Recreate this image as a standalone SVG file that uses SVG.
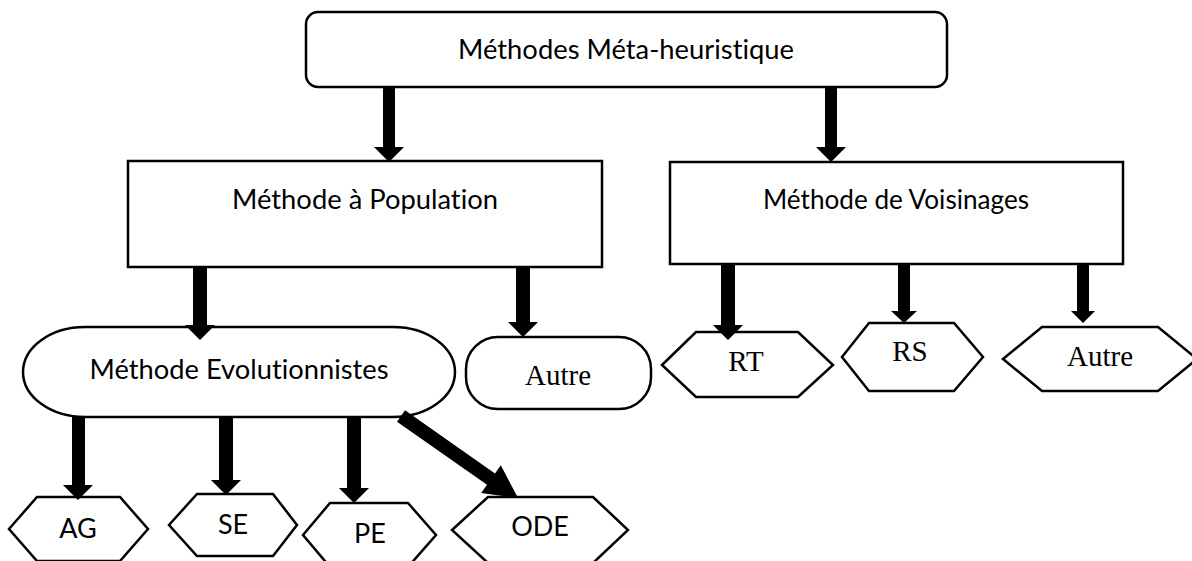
<svg xmlns="http://www.w3.org/2000/svg" width="1192" height="561" viewBox="0 0 1192 561">
<style>
.n{fill:#fff;stroke:#000;stroke-width:2.5}
.c{font-family:Lato,"Open Sans",sans-serif;font-size:27px;fill:#000;text-anchor:middle;font-variant-ligatures:none}
.t{font-family:"Liberation Serif","Times New Roman",serif;font-size:29px;fill:#000;text-anchor:middle}
.a{fill:#000;stroke:none}
</style>
<rect width="1192" height="561" fill="#fff"/>
<g id="n-meta">
<rect class="n" x="306" y="12" width="641" height="75" rx="12"/>
<text class="c" x="626" y="59" textLength="336" lengthAdjust="spacingAndGlyphs">Méthodes Méta-heuristique</text>
</g>
<g id="n-population">
<rect class="n" x="128" y="161" width="474" height="106"/>
<text class="c" x="365" y="209" textLength="266" lengthAdjust="spacingAndGlyphs">Méthode à Population</text>
</g>
<g id="n-voisinages">
<rect class="n" x="670" y="162" width="453" height="102"/>
<text class="c" x="896" y="209" textLength="266" lengthAdjust="spacingAndGlyphs">Méthode de Voisinages</text>
</g>
<g id="n-evol">
<rect class="n" x="23" y="327" width="432" height="90" rx="62" ry="45"/>
<text class="c" x="239" y="379" textLength="299" lengthAdjust="spacingAndGlyphs">Méthode Evolutionnistes</text>
</g>
<g id="n-autre1">
<rect class="n" x="466" y="337" width="185" height="72" rx="32" ry="32"/>
<text class="t" x="558" y="385">Autre</text>
</g>
<g id="n-ag">
<polygon class="n" points="9,529 37,497 120,497 148,529 120,561 37,561"/>
<text class="c" x="78" y="538">AG</text>
</g>
<g id="n-se">
<polygon class="n" points="169,525 197,494 273,494 297,525 273,556 197,556"/>
<text class="c" x="233" y="534">SE</text>
</g>
<g id="n-pe">
<polygon class="n" points="303,535 330,503 408,503 436,535 408,567 330,567"/>
<text class="c" x="370" y="543">PE</text>
</g>
<g id="n-ode">
<polygon class="n" points="452,530 488,497 593,497 628,530 593,563 488,563"/>
<text class="c" x="540" y="536">ODE</text>
</g>
<g id="n-rt">
<polygon class="n" points="662,365 696,332 798,332 833,365 798,397 696,397"/>
<text class="t" x="746" y="371">RT</text>
</g>
<g id="n-rs">
<polygon class="n" points="842,357 869,323 954,323 983,357 954,391 869,391"/>
<text class="t" x="910" y="361">RS</text>
</g>
<g id="n-autre2">
<polygon class="n" points="1003,359 1042,327 1158,327 1197,359 1158,391 1042,391"/>
<text class="t" x="1100" y="366">Autre</text>
</g>
<g id="connectors">
<polygon class="a" points="383,87 395,87 395,147 404,147 389,162 374,147 383,147"/>
<polygon class="a" points="825,87 837,87 837,147 846,147 831,162 816,147 825,147"/>
<polygon class="a" points="193,267 207,267 207,325 215,325 200,340 185,325 193,325"/>
<polygon class="a" points="516,267 530,267 530,322 538,322 523,337 508,322 516,322"/>
<polygon class="a" points="721,264 735,264 735,325 743,325 728,340 713,325 721,325"/>
<polygon class="a" points="898,264 910,264 910,311 917,311 904,323 891,311 898,311"/>
<polygon class="a" points="1077,264 1089,264 1089,311 1095,311 1083,323 1071,311 1077,311"/>
<polygon class="a" points="72,416 85,416 85,485 93,485 78,500 63,485 72,485"/>
<polygon class="a" points="219,416 233,416 233,480 241,480 226,495 211,480 219,480"/>
<polygon class="a" points="347,416 361,416 361,488 369,488 354,503 339,488 347,488"/>
<polygon class="a" points="405,410.3 495,473.4 500.8,465.2 518,498 481.2,493 487,484.8 397,421.7"/>
</g>
</svg>
